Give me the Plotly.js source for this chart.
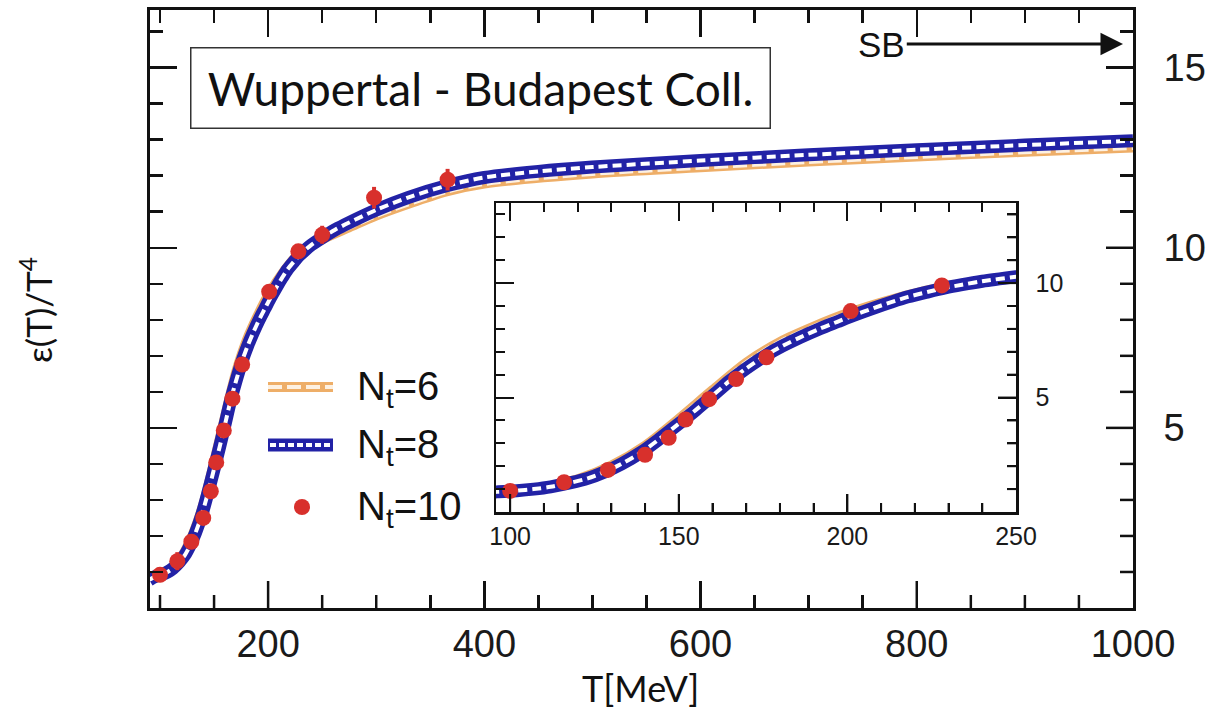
<!DOCTYPE html>
<html>
<head>
<meta charset="utf-8">
<script src="https://cdn.plot.ly/plotly-3.0.1.min.js"></script>
<style>html,body{margin:0;padding:0;background:#fff;}#chart{width:1210px;height:724px;}</style>
</head>
<body>
<div id="chart"></div>
<script>
// ---- data ----
const T_N8 = [90, 96, 102, 107, 112, 118, 123, 128, 133, 139, 144, 149, 155, 160, 165, 170, 176, 181, 186, 192, 197, 202, 208, 213, 218, 224, 229, 234, 240, 250, 262, 275, 300, 330, 365, 400, 450, 500, 600, 700, 800, 900, 1000];
const E_N8 = [0.78, 0.88, 0.93, 1.0, 1.10, 1.28, 1.47, 1.75, 2.1, 2.62, 3.16, 3.74, 4.45, 5.08, 5.72, 6.27, 6.86, 7.27, 7.63, 8.02, 8.31, 8.6, 8.92, 9.17, 9.4, 9.62, 9.79, 9.93, 10.08, 10.28, 10.5, 10.7, 11.05, 11.4, 11.72, 11.95, 12.12, 12.24, 12.42, 12.58, 12.72, 12.85, 12.97];

const T_N6 = [90, 100, 110, 120, 130, 140, 150, 160, 170, 180, 190, 200, 215, 230, 250, 275, 300, 365, 400, 500, 600, 700, 800, 900, 1000];
const E_N6 = [0.83, 0.96, 1.1, 1.45, 2.05, 2.92, 4.1, 5.35, 6.55, 7.45, 8.12, 8.7, 9.38, 9.9, 10.22, 10.55, 10.88, 11.55, 11.77, 12.05, 12.22, 12.38, 12.52, 12.65, 12.77];

const T_N10 = [100, 116, 129, 140, 147, 152, 159, 167, 176, 201, 228, 250, 298, 366];
const E_N10 = [0.92, 1.3, 1.84, 2.5, 3.24, 4.04, 4.93, 5.81, 6.76, 8.78, 9.9, 10.36, 11.39, 11.89];
const ERR_N10 = [0.2, 0.25, 0.2, 0.2, 0.2, 0.2, 0.2, 0.2, 0.2, 0.2, 0.2, 0.25, 0.3, 0.3];

const SB_LIMIT = 15.6;
const LEGEND_LABELS = ['N<sub>t</sub>=6', 'N<sub>t</sub>=8', 'N<sub>t</sub>=10'];
const BOX_TEXT = 'Wuppertal - Budapest Coll.';

// axis tick values
const MAIN_X_MAJOR = [200, 400, 600, 800];
const MAIN_X_MINOR = [100, 150, 250, 300, 350, 450, 500, 550, 650, 700, 750, 850, 900, 950];
const MAIN_Y_MAJOR = [5, 10, 15];
const MAIN_Y_MINOR = [1, 2, 3, 4, 6, 7, 8, 9, 11, 12, 13, 14, 16];
const INSET_X_MAJOR = [100, 150, 200];
const INSET_X_MINOR = [110, 120, 130, 140, 160, 170, 180, 190, 210, 220, 230, 240];
const INSET_Y_MAJOR = [5, 10];
const INSET_Y_MINOR = [1, 2, 3, 4, 6, 7, 8, 9, 11, 12, 13];

// ---- styles ----
const ORANGE = '#eeae68', ORANGE_IN = '#fdf1e2';
const BLUE = '#2222a6', BLUE_IN = '#ffffff';
const RED = '#d8302c';

const L = 150, R = 1133, TOP = 10, BOT = 608;
const W = R - L, H = BOT - TOP;
const px2x = p => (p - L) / W;
const py2y = p => (BOT - p) / H;
const XR = [90.75, 1000], YR = [0, 16.6], X2R = [95.8, 250], Y2R = [0, 13.5];
const IN_L = 496, IN_R = 1016, IN_T = 203, IN_B = 512;

function bandTraces(xa, ya, inset) {
  const tr = [];
  const filt = (T, E, lim) => {
    if (!inset) return [T, E];
    const x = [], y = [];
    T.forEach((t, i) => { if (t <= lim) { x.push(t); y.push(E[i]); } });
    return [x, y];
  };
  const [x6, y6] = filt(T_N6, E_N6, 275);
  const [x8, y8] = filt(T_N8, E_N8, 262);
  tr.push({x: x6, y: y6, xaxis: xa, yaxis: ya, mode: 'lines', line: {color: ORANGE, width: 9, shape: 'spline', smoothing: 0.8}, hoverinfo: 'skip', showlegend: false});
  tr.push({x: x6, y: y6, xaxis: xa, yaxis: ya, mode: 'lines', line: {color: ORANGE_IN, width: 4, dash: '14px,5px', shape: 'spline', smoothing: 0.8}, hoverinfo: 'skip', showlegend: false});
  tr.push({x: x8, y: y8, xaxis: xa, yaxis: ya, mode: 'lines', line: {color: BLUE, width: 13, shape: 'spline', smoothing: 0.8}, hoverinfo: 'skip', showlegend: false});
  tr.push({x: x8, y: y8, xaxis: xa, yaxis: ya, mode: 'lines', line: {color: BLUE_IN, width: 4, dash: '9px,5px', shape: 'spline', smoothing: 0.8}, hoverinfo: 'skip', showlegend: false});
  let px = T_N10, py = E_N10, pe = ERR_N10;
  if (inset) {
    px = []; py = []; pe = [];
    T_N10.forEach((t, i) => { if (t < 245) { px.push(t); py.push(E_N10[i]); pe.push(ERR_N10[i]); } });
  }
  tr.push({x: px, y: py, xaxis: xa, yaxis: ya, mode: 'markers',
    marker: {color: RED, size: 16, line: {width: 0}},
    error_y: {type: 'data', array: pe, visible: true, color: RED, thickness: 4, width: 0},
    hoverinfo: 'skip', showlegend: false});
  return tr;
}

// bottom / right tick marks built from the tick arrays and the axis scale
function tickTrace(xa, ya, xr, yr, wpx, hpx, xMaj, xMin, yMaj, yMin, lenMaj, lenMin, w) {
  const ux = (xr[1] - xr[0]) / wpx, uy = (yr[1] - yr[0]) / hpx;
  const xs = [], ys = [];
  const addX = (vals, len) => vals.forEach(v => { xs.push(v, v, null); ys.push(yr[0], yr[0] + len * uy, null); });
  const addY = (vals, len) => vals.forEach(v => { xs.push(xr[1], xr[1] - len * ux, null); ys.push(v, v, null); });
  addX(xMaj, lenMaj); addX(xMin, lenMin); addY(yMaj, lenMaj); addY(yMin, lenMin);
  return {x: xs, y: ys, xaxis: xa, yaxis: ya, mode: 'lines', connectgaps: false, cliponaxis: false,
    line: {color: '#111', width: w}, hoverinfo: 'skip', showlegend: false};
}

const data = [
  ...bandTraces('x', 'y', false),
  tickTrace('x', 'y', XR, YR, W, H, MAIN_X_MAJOR, MAIN_X_MINOR, MAIN_Y_MAJOR, MAIN_Y_MINOR, 27, 13, 2.5),
  ...bandTraces('x2', 'y2', true),
  tickTrace('x2', 'y2', X2R, Y2R, IN_R - IN_L, IN_B - IN_T, INSET_X_MAJOR, INSET_X_MINOR, INSET_Y_MAJOR, INSET_Y_MINOR, 18, 9, 2)
];

const tickFont = {family: 'Liberation Sans, Arial, sans-serif', size: 38, color: '#1a1a1a'};
const insetFont = {family: 'Liberation Sans, Arial, sans-serif', size: 25, color: '#1a1a1a'};
const legFont = {family: 'Liberation Sans, Arial, sans-serif', size: 40, color: '#111'};

const mainTicks = (minorDtick) => ({
  showgrid: false, zeroline: false, showline: true, linecolor: '#111', linewidth: 3, mirror: 'ticks',
  ticks: 'inside', ticklen: 27, tickwidth: 2.5, tickcolor: '#111',
  minor: {ticks: 'inside', ticklen: 13, tickwidth: 2.5, tickcolor: '#111', dtick: minorDtick, tick0: 0, showgrid: false}
});
const insetTicks = (minorDtick) => ({
  showgrid: false, zeroline: false, showline: true, linecolor: '#111', linewidth: 2.5, mirror: 'ticks',
  ticks: 'inside', ticklen: 18, tickwidth: 2, tickcolor: '#111',
  minor: {ticks: 'inside', ticklen: 9, tickwidth: 2, tickcolor: '#111', dtick: minorDtick, tick0: 0, showgrid: false}
});

const layout = {
  width: 1210, height: 724,
  margin: {l: L, r: 1210 - R, t: TOP, b: 724 - BOT, pad: 0},
  paper_bgcolor: '#ffffff', plot_bgcolor: '#ffffff',
  showlegend: false,
  xaxis: Object.assign(mainTicks(50), {
    domain: [0, 1], range: XR, anchor: 'y',
    tickmode: 'linear', tick0: 0, dtick: 200, tickfont: tickFont
  }),
  yaxis: Object.assign(mainTicks(1), {
    domain: [0, 1], range: YR, anchor: 'x', side: 'right',
    tickmode: 'array', tickvals: MAIN_Y_MAJOR, ticktext: MAIN_Y_MAJOR.map(String),
    tickfont: tickFont, ticklabelstandoff: 20
  }),
  xaxis2: Object.assign(insetTicks(10), {
    domain: [px2x(IN_L), px2x(IN_R)], range: X2R, anchor: 'y2',
    tickmode: 'linear', tick0: 0, dtick: 50, tickfont: insetFont
  }),
  yaxis2: Object.assign(insetTicks(1), {
    domain: [py2y(IN_B), py2y(IN_T)], range: Y2R, anchor: 'x2', side: 'right',
    tickmode: 'array', tickvals: INSET_Y_MAJOR, ticktext: INSET_Y_MAJOR.map(String),
    tickfont: insetFont, ticklabelstandoff: 12
  }),
  shapes: [
    // custom legend icons
    {type: 'line', xref: 'paper', yref: 'paper', x0: px2x(268), x1: px2x(333), y0: py2y(387), y1: py2y(387), line: {color: ORANGE, width: 10}},
    {type: 'line', xref: 'paper', yref: 'paper', x0: px2x(268), x1: px2x(333), y0: py2y(387), y1: py2y(387), line: {color: ORANGE_IN, width: 4, dash: '14px,5px'}},
    {type: 'line', xref: 'paper', yref: 'paper', x0: px2x(268), x1: px2x(333), y0: py2y(445), y1: py2y(445), line: {color: BLUE, width: 13}},
    {type: 'line', xref: 'paper', yref: 'paper', x0: px2x(270), x1: px2x(331), y0: py2y(445), y1: py2y(445), line: {color: BLUE_IN, width: 4, dash: '6px,3px'}},
    {type: 'circle', xref: 'paper', yref: 'paper', xsizemode: 'pixel', ysizemode: 'pixel',
     xanchor: px2x(302), yanchor: py2y(507), x0: -8, x1: 8, y0: -8, y1: 8,
     fillcolor: RED, line: {width: 0}}
  ],
  annotations: [
    {xref: 'paper', yref: 'paper', x: px2x(190), y: py2y(47), xanchor: 'left', yanchor: 'top',
     text: BOX_TEXT, showarrow: false, width: 556, height: 57, borderpad: 11, borderwidth: 1.5,
     bordercolor: '#333', bgcolor: '#fff', align: 'center',
     font: {family: 'Lato, sans-serif', size: 46, color: '#111'}},
    {xref: 'x', yref: 'y', x: 1000, y: SB_LIMIT, axref: 'x', ayref: 'y', ax: 800, ay: SB_LIMIT,
     text: 'SB', showarrow: true, arrowhead: 2, arrowsize: 1.5, arrowwidth: 3, arrowcolor: '#111',
     xanchor: 'right', yanchor: 'middle', xshift: -10, yshift: 2,
     font: {family: 'Liberation Sans, Arial, sans-serif', size: 35, color: '#111'}},
    {xref: 'paper', yref: 'paper', x: px2x(355), y: py2y(389), xanchor: 'left', yanchor: 'middle',
     text: LEGEND_LABELS[0], showarrow: false, font: legFont},
    {xref: 'paper', yref: 'paper', x: px2x(355), y: py2y(447), xanchor: 'left', yanchor: 'middle',
     text: LEGEND_LABELS[1], showarrow: false, font: legFont},
    {xref: 'paper', yref: 'paper', x: px2x(355), y: py2y(509), xanchor: 'left', yanchor: 'middle',
     text: LEGEND_LABELS[2], showarrow: false, font: legFont},
    {xref: 'paper', yref: 'paper', x: px2x(36), y: py2y(310), xanchor: 'center', yanchor: 'middle',
     text: 'ε(T)/T<sup>4</sup>', textangle: -90, showarrow: false,
     font: {family: 'Lato, sans-serif', size: 35, color: '#111'}},
    {xref: 'paper', yref: 'paper', x: px2x(640), y: py2y(688), xanchor: 'center', yanchor: 'middle',
     text: 'T[MeV]', showarrow: false,
     font: {family: 'Lato, sans-serif', size: 36, color: '#111'}}
  ]
};

Plotly.newPlot('chart', data, layout, {displayModeBar: false, staticPlot: true});
</script>
</body>
</html>
